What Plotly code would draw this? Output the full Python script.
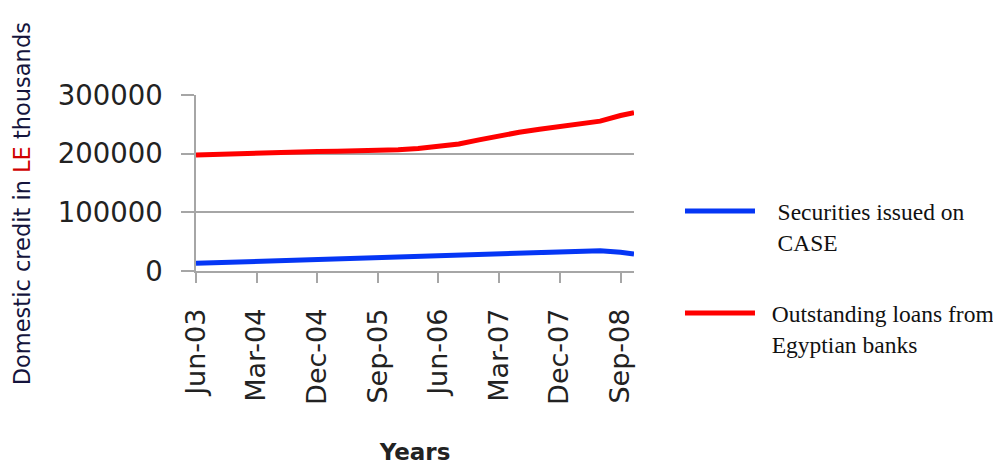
import plotly.graph_objects as go

# quarterly readings (plus the final point) in LE thousands
dates = ["2003-06-01", "2003-09-01", "2003-12-01", "2004-03-01", "2004-06-01", "2004-09-01",
         "2004-12-01", "2005-03-01", "2005-06-01", "2005-09-01", "2005-12-01", "2006-03-01",
         "2006-06-01", "2006-08-01", "2006-09-01", "2006-12-01", "2007-03-01", "2007-06-01",
         "2007-09-01", "2007-12-01", "2008-03-01", "2008-06-01", "2008-09-01", "2008-11-01"]
securities = [13100, 14200, 15300, 16500, 17600, 18700, 19800, 21000, 21500, 22700, 23300, 23800,
              25000, 25300, 25500, 26700, 27800, 29500, 30600, 32300, 33400, 34600, 31800, 29000]
loans = [197800, 199000, 200000, 201000, 202000, 202800, 203500, 204000, 204500, 205200, 206800, 209000,
         212000, 214500, 216500, 223500, 231000, 236500, 241500, 246500, 250800, 255500, 265000, 270000]

tick_vals = ["2003-06-01", "2004-03-01", "2004-12-01", "2005-09-01", "2006-06-01",
             "2007-03-01", "2007-12-01", "2008-09-01"]
tick_text = ["Jun-03", "Mar-04", "Dec-04", "Sep-05", "Jun-06", "Mar-07", "Dec-07", "Sep-08"]
y_ticks = [0, 100000, 200000, 300000]
y_text = ["0", "100000", "200000", "300000"]

pad_b = "\u00a0" * 3
pad_r = "\u00a0" * 2
names = [pad_b + "Securities issued on<br>" + pad_b + "CASE",
         pad_r + "Outstanding loans from<br>" + pad_r + "Egyptian banks"]
colors = ["#0536f5", "#ff0000"]
legend_ids = ["legend", "legend2"]

fig = go.Figure()
for vals, nm, col, lg in zip([securities, loans], names, colors, legend_ids):
    fig.add_trace(go.Scatter(x=dates, y=vals, mode="lines", name=nm, legend=lg,
                             line=dict(color=col, width=5, shape="linear")))

grey = "#a6a6a6"
leg_font = dict(family="Liberation Serif", size=23.5, color="#111111")
fig.update_layout(
    template="none",
    width=993, height=457,
    margin=dict(l=188, r=367, t=87, b=194, autoexpand=False),
    paper_bgcolor="white", plot_bgcolor="white",
    font=dict(family="DejaVu Sans", size=26, color="#222222"),
    showlegend=True,
    legend=dict(x=1.105, y=0.465, xanchor="left", yanchor="top", valign="top",
                font=leg_font, itemwidth=70, bgcolor="rgba(0,0,0,0)", borderwidth=0),
    legend2=dict(x=1.105, y=-0.115, xanchor="left", yanchor="top", valign="top",
                 font=leg_font, itemwidth=70, bgcolor="rgba(0,0,0,0)", borderwidth=0),
    xaxis=dict(type="date", range=["2003-06-01", "2008-11-01"], automargin=False,
               tickmode="array", tickvals=tick_vals, ticktext=tick_text,
               tickangle=-90, ticks="outside", ticklen=10, tickcolor=grey, tickwidth=1.5,
               ticklabelstandoff=15, tickfont=dict(size=27),
               showgrid=False, showline=True, linecolor=grey, linewidth=1.5,
               zeroline=False,
               title=dict(text="<b>Years</b>", font=dict(family="DejaVu Sans", size=23, color="#222222"),
                          standoff=40)),
    yaxis=dict(range=[0, 300000], tickmode="array", tickvals=y_ticks, ticktext=y_text,
               automargin=False, tickfont=dict(size=27.5),
               ticks="outside", ticklen=13, tickcolor=grey, tickwidth=1.5,
               ticklabelstandoff=13,
               showgrid=True, gridcolor=grey, gridwidth=1.5,
               showline=True, linecolor=grey, linewidth=1.5, zeroline=False),
)

fig.add_annotation(
    text="Domestic credit in <span style='color:#d00000'>LE</span> thousands",
    xref="paper", yref="paper", x=-0.397, y=0.38, xanchor="center", yanchor="middle",
    textangle=-90, showarrow=False,
    font=dict(family="DejaVu Sans", size=22.5, color="#14143c"))

fig.write_html("out.html")
